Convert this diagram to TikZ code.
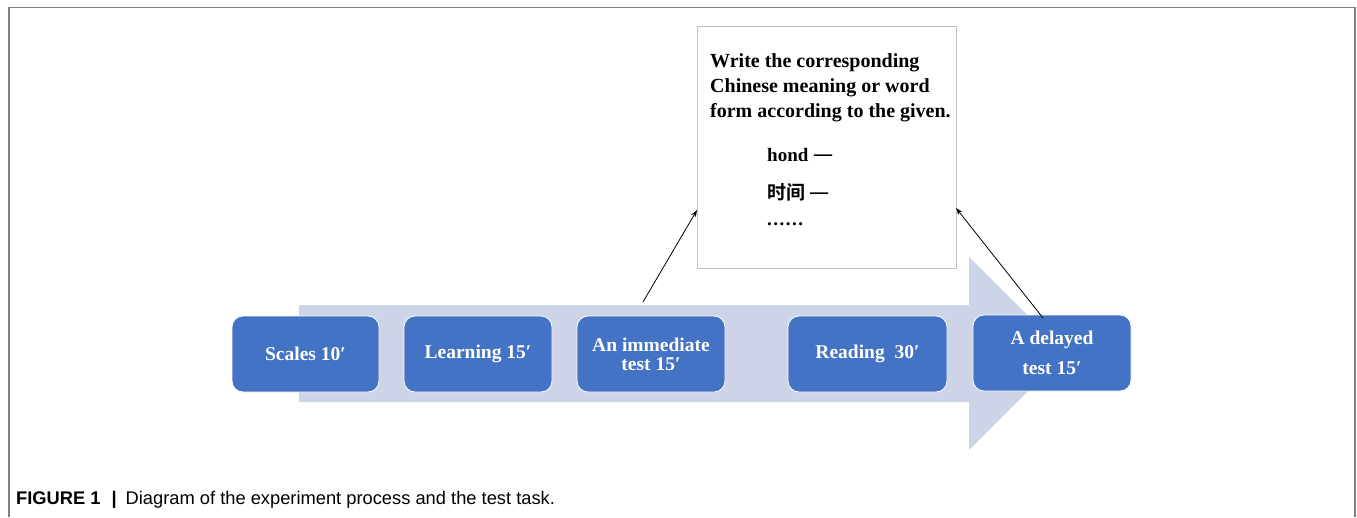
\documentclass[tikz,border=0pt]{standalone}
\usepackage{fontspec}
\setmainfont{Liberation Serif}
\newfontfamily\capfont{Liberation Sans}
\newfontfamily\cjk{Noto Sans CJK SC}[BoldFont={Noto Sans CJK SC Bold}]
\usetikzlibrary{arrows.meta}
\definecolor{boxblue}{HTML}{4472C4}
\definecolor{arrowfill}{HTML}{CED4E8}
\definecolor{framegray}{HTML}{7F7F7F}
\definecolor{tboxgray}{HTML}{BFBFBF}
\tikzset{
  stage/.style={draw=white, line width=0.8pt, fill=boxblue, rounded corners=11pt,
    minimum height=76pt, text=white, font=\fontsize{19.5}{21}\selectfont\bfseries, align=center, inner sep=0pt},
  conn/.style={-{Stealth[length=7pt,width=5pt]}, line width=0.8pt, black},
  tasktext/.style={anchor=west, inner sep=0pt, font=\fontsize{19}{20}\selectfont\bfseries},
}
\begin{document}
\begin{tikzpicture}[x=1pt,y=-1pt]
\useasboundingbox (0,0) rectangle (1357,517);
% frame
\draw[framegray, line width=1.5pt] (9,517) -- (9,7.5) -- (1355,7.5) -- (1355,517);
% big arrow
\fill[arrowfill] (299,305) -- (969,305) -- (969,257) -- (1066,353.5) -- (969,450) -- (969,402) -- (299,402) -- cycle;
% stages
\node[stage, minimum width=147pt] (scales) at (305.5,354) {Scales 10′};
\node[stage, minimum width=148pt] (learn) at (478,354) {Learning 15′};
\node[stage, minimum width=148pt] (imm) at (651,354) {An immediate\\[-2pt]test 15′};
\node[stage, minimum width=159pt] (read) at (867.5,354) {Reading\ \ 30′};
\node[stage, minimum width=158pt, font=\fontsize{19.5}{30}\selectfont\bfseries] (del) at (1052,353) {A delayed\\test 15′};
% task box
\node[draw=tboxgray, line width=1pt, fill=white, minimum width=259pt, minimum height=242pt, inner sep=0pt] (task) at (826.5,147) {};
\node[anchor=north west, align=left, inner sep=0pt, font=\fontsize{20}{25}\selectfont\bfseries] (instr) at (710,53) {Write the corresponding\\Chinese meaning or word\\form according to the given.};
\node[tasktext] (hond) at (767,156) {hond \raisebox{-2pt}{\cjk\mdseries\fontsize{20}{20}\selectfont 一}};
\node[tasktext] (shijian) at (767,192) {{\cjk 时间 \raisebox{-2pt}{\mdseries\fontsize{20}{20}\selectfont 一}}};
\node[tasktext] (dots) at (767,224) {.\kern1.5pt.\kern1.5pt.\kern1.5pt.\kern1.5pt.\kern1.5pt.};
% connectors
\coordinate (s1) at (643,302);
\coordinate (e1) at (697,210);
\coordinate (s2) at (1043,318);
\coordinate (e2) at (956,208);
\draw[conn] (s1) -- (e1);
\draw[conn] (s2) -- (e2);
% caption
\node[anchor=west, inner sep=0pt, font=\capfont\fontsize{18.3}{20}\selectfont] (cap) at (16,500) {\textbf{FIGURE 1}\kern11pt\textbf{|}\kern9pt Diagram of the experiment process and the test task.};
\end{tikzpicture}
\end{document}
